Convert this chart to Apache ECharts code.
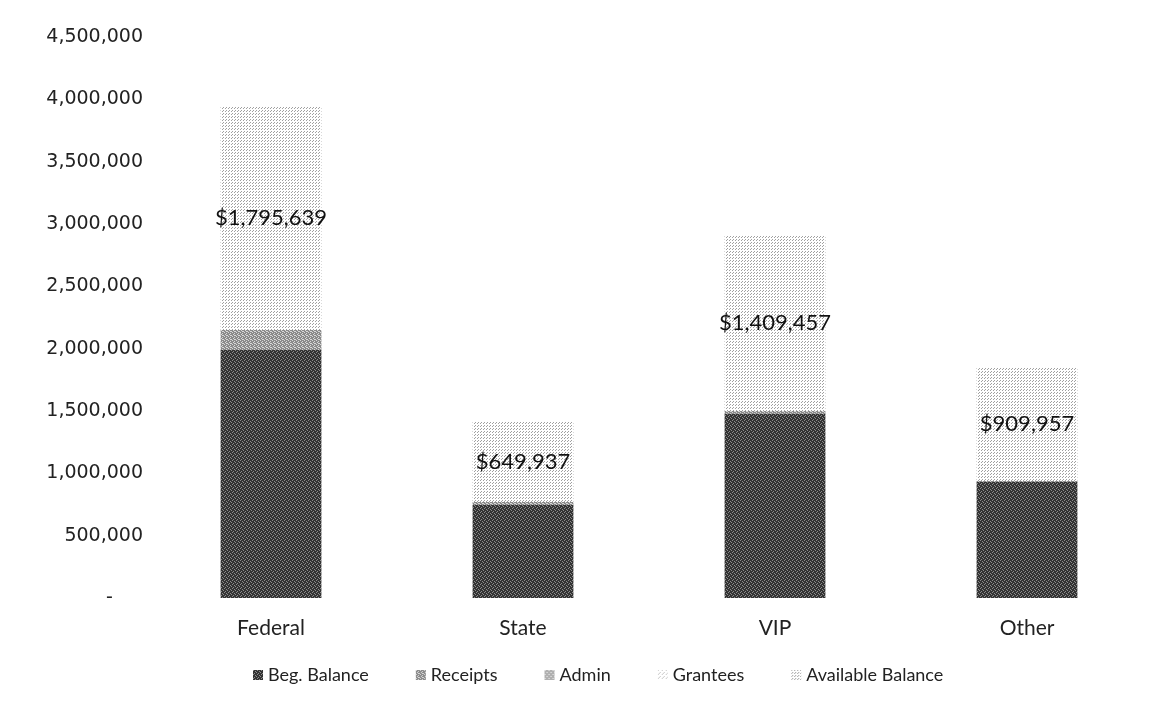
<!DOCTYPE html>
<html>
<head>
<meta charset="utf-8">
<script src="https://cdn.jsdelivr.net/npm/echarts@6/dist/echarts.min.js"></script>
<style>
html,body{margin:0;padding:0;background:#fff;}
#chart{width:1175px;height:713px;}
</style>
</head>
<body>
<div id="chart"></div>
<script>
const categories = ['Federal', 'State', 'VIP', 'Other'];
const begBalance = [1990000, 745000, 1480000, 930000];
const receipts = [160000, 25000, 20000, 8000];
const admin = [0, 0, 0, 0];
const grantees = [0, 0, 0, 0];
const availableBalance = [1795639, 649937, 1409457, 909957];
const seriesNames = ['Beg. Balance', 'Receipts', 'Admin', 'Grantees', 'Available Balance'];
const yTicks = [0, 500000, 1000000, 1500000, 2000000, 2500000, 3000000, 3500000, 4000000, 4500000];

function makePattern(size, bg, fg, pts) {
  const c = document.createElement('canvas');
  c.width = size; c.height = size;
  const ctx = c.getContext('2d');
  ctx.fillStyle = bg; ctx.fillRect(0, 0, size, size);
  ctx.fillStyle = fg;
  pts.forEach(p => ctx.fillRect(p[0], p[1], 1, 1));
  return { image: c, repeat: 'repeat' };
}
const patDark = makePattern(4, '#333333', '#8c8c8c', [[0,0],[2,1],[1,3],[3,2]]);
const patRec = makePattern(4, '#8a8a8a', '#d8d8d8', [[0,0],[2,1],[1,2],[3,3],[2,3]]);
const patAdmin = makePattern(4, '#b0b0b0', '#f0f0f0', [[0,0],[2,2]]);
const patGrant = makePattern(4, '#ffffff', '#c8c8c8', [[0,0],[2,2],[1,3]]);
const patAvail = makePattern(3, '#ffffff', '#a0a0a0', [[0,0],[1,2]]);
const patterns = [patDark, patRec, patAdmin, patGrant, patAvail];
const dataSets = [begBalance, receipts, admin, grantees, availableBalance];

function fmtNum(v) {
  if (v === 0) return '-     ';
  return v.toLocaleString('en-US');
}

const chart = echarts.init(document.getElementById('chart'));
const FONT = 'Lato, "Open Sans", sans-serif';
chart.setOption({
  animation: false,
  textStyle: { fontFamily: FONT },
  grid: { left: 145, right: 22, top: 37, bottom: 115 },
  legend: {
    bottom: 24,
    left: 248,
    itemWidth: 10, itemHeight: 10, itemGap: 47,
    icon: 'rect',
    textStyle: { fontFamily: FONT, fontSize: 18, color: '#222' },
    data: seriesNames
  },
  xAxis: {
    type: 'category',
    data: categories,
    axisLine: { show: false },
    axisTick: { show: false },
    axisLabel: { fontFamily: FONT, fontSize: 21, color: '#222', margin: 20 }
  },
  yAxis: {
    type: 'value',
    min: 0, max: 4500000, interval: 500000,
    splitLine: { show: false },
    axisLine: { show: false },
    axisTick: { show: false },
    axisLabel: {
      fontFamily: '"DejaVu Sans", Verdana, sans-serif', fontSize: 19, color: '#222', margin: 2,
      formatter: v => fmtNum(v)
    }
  },
  series: seriesNames.map((name, i) => ({
    name: name,
    type: 'bar',
    stack: 'total',
    barWidth: '40%',
    data: dataSets[i],
    itemStyle: { color: patterns[i] },
    label: i === 4 ? {
      show: true,
      position: 'inside',
      fontFamily: FONT, fontSize: 22, color: '#111',
      formatter: p => '$' + p.value.toLocaleString('en-US')
    } : { show: false }
  }))
});
</script>
</body>
</html>
